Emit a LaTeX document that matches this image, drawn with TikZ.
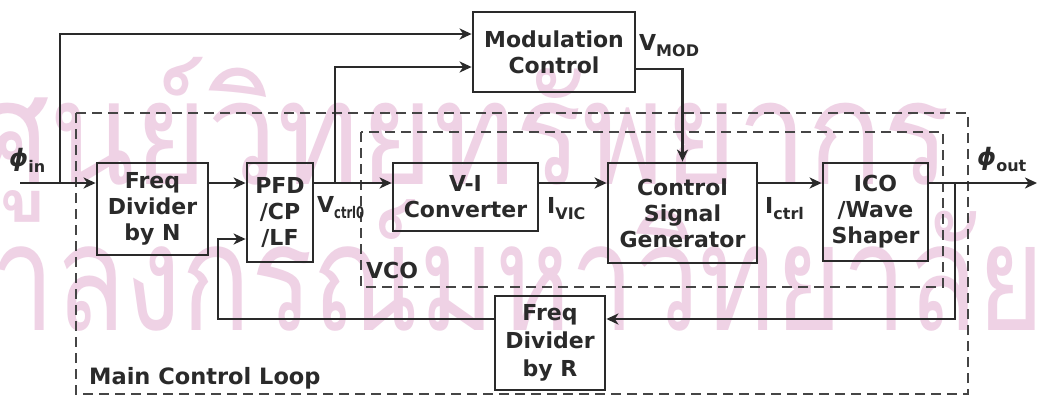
\documentclass[tikz,border=0pt]{standalone}
\usepackage{fontspec}
\setsansfont{DejaVu Sans}
\newfontfamily\thaifont[Script=Thai]{Loma}
\usetikzlibrary{arrows.meta}
\definecolor{ink}{HTML}{2A2A2A}
\definecolor{dashink}{HTML}{454545}
\definecolor{wm}{HTML}{EFD2E5}
\newcommand\lsub[1]{\raisebox{-6pt}{\fontsize{16}{16}\selectfont #1}}
\newcommand\csub[1]{\raisebox{-6pt}{\fontsize{16}{16}\selectfont\scalebox{0.72}[1]{#1}}}
\newcommand\bigphi{{\fontsize{24}{24}\selectfont\itshape ϕ}}
\tikzset{
  txt/.style={font=\sffamily\bfseries\fontsize{22}{26}\selectfont, text=ink, align=center, inner sep=0pt},
  blk/.style={txt, draw=ink, line width=2.8pt},
  lbl/.style={txt},
  wire/.style={draw=ink, line width=2.7pt},
  arr/.style={wire, -{Stealth[length=12pt,width=11pt,inset=3.5pt]}},
  dashbox/.style={draw=dashink, line width=2.4pt, dash pattern=on 10pt off 6pt},
  wmark/.style={text=wm, inner sep=0pt, font=\thaifont\fontsize{100}{100}\selectfont}
}
\begin{document}
\begin{tikzpicture}[x=1pt,y=-1pt]
\useasboundingbox (0,0) rectangle (1040,399);
\fill[white] (0,0) rectangle (1040,399);
% watermark
\begin{scope}
\clip (0,0) rectangle (1040,399);
\node[wmark, anchor=north west] (wm1) at (-30,57) {\resizebox*{980pt}{165pt}{ศูนย์วิทยทรัพยากร}};
\node[wmark, anchor=base east] (wm2) at (1045,330) {\scalebox{1}[1.3]{\resizebox{1200pt}{!}{จุฬาลงกรณ์มหาวิทยาลัย}}};
\end{scope}
% dashed groups
\draw[dashbox] (76,113) rectangle (968,394);
\draw[dashbox] (361,132) rectangle (943,287);
% blocks
\node[blk, minimum width=162pt, minimum height=80pt] (modc) at (554,52) {Modulation\\Control};
\node[blk, minimum width=111pt, minimum height=92pt] (fdn) at (152.5,209) {Freq\\Divider\\by N};
\node[blk, minimum width=66pt, minimum height=99pt] (pfd) at (280,212.5) {PFD\\/CP\\/LF};
\node[blk, minimum width=145pt, minimum height=68pt] (vi) at (465.5,197) {V-I\\Converter};
\node[blk, minimum width=149pt, minimum height=100pt] (csg) at (682.5,213) {Control\\Signal\\Generator};
\node[blk, minimum width=105pt, minimum height=98pt] (ico) at (875.5,212) {ICO\\/Wave\\Shaper};
\node[blk, minimum width=110pt, minimum height=94pt, font=\sffamily\bfseries\fontsize{22}{28}\selectfont] (fdr) at (550,343) {Freq\\Divider\\by R};
% labels
\node[lbl, anchor=west] (phiin) at (9,160) {\bigphi\lsub{in}};
\node[lbl, anchor=west] (phiout) at (977,159) {\bigphi\lsub{out}};
\node[lbl, anchor=west] (vmod) at (639,46) {V\lsub{MOD}};
\node[lbl, anchor=west] (vctrl) at (317,208) {V\csub{ctrl0}};
\node[lbl, anchor=west] (ivic) at (547,209) {I\lsub{VIC}};
\node[lbl, anchor=west] (ictrl) at (765,209) {I\lsub{ctrl}};
\node[lbl, anchor=west] (vcolbl) at (366,270) {VCO};
\node[lbl, anchor=west, font=\sffamily\bfseries\fontsize{22.5}{26}\selectfont] (mcl) at (89,378) {Main Control Loop};
% coordinates
\coordinate (in0) at (20,183);
\coordinate (b1) at (60,183);
\coordinate (b2) at (335,183);
\coordinate (b3) at (955,183);
\coordinate (out) at (1037,183);
\coordinate (fb1) at (218,319);
% connectors
\draw[arr] (in0) -- (fdn.west |- in0);
\draw[arr] (b1) |- (modc.west |- 0,34);
\draw[arr] (fdn.east |- in0) -- (pfd.west |- in0);
\draw[arr] (pfd.east |- in0) -- (vi.west |- in0);
\draw[arr] (b2) |- (modc.west |- 0,67);
\draw[arr] (vi.east |- in0) -- (csg.west |- in0);
\draw[arr] (csg.east |- in0) -- (ico.west |- in0);
\draw[arr] (ico.east |- in0) -- (out);
\draw[arr] (modc.east |- 0,69) -| (csg.north);
\draw[arr] (b3) |- (fdr.east |- fb1);
\draw[arr] (fdr.west |- fb1) -- (fb1) |- (pfd.west |- 0,239);
\end{tikzpicture}
\end{document}
